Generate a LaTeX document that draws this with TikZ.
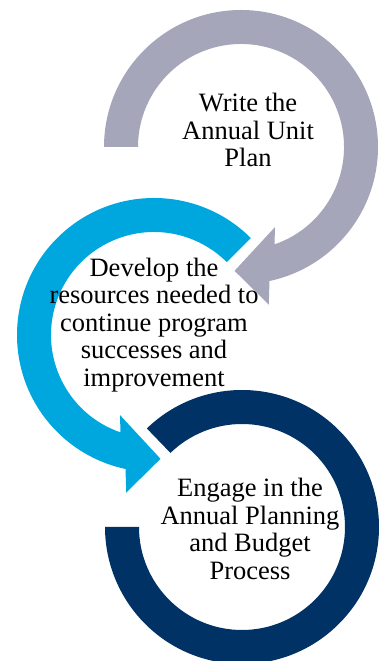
\documentclass[tikz,border=0pt]{standalone}
\usepackage{fontspec}
\setmainfont{Liberation Serif}
\definecolor{plangray}{RGB}{166,166,186}
\definecolor{rescyan}{RGB}{0,167,222}
\definecolor{budgetnavy}{RGB}{0,50,101}

\begin{document}
\begin{tikzpicture} [x=1pt, y=1pt, steptext/.style={align=center, font=\fontsize{26.5}{27.5}\selectfont}]
		\useasboundingbox (0,0) rectangle (380,661);
		% three circular arrows, one per step
		\fill [plangray, shift={(241,514)}] (180:103) -- (180:137) arc [start angle=180, end angle=-78, radius=137pt] -- (-80:160) -- (-93:124) -- (-67:87) -- (-71:103) arc [start angle=-71, end angle=180, radius=103pt] -- cycle;
		\fill [rescyan, shift={(154,326)}] (45:103) -- (45:137) arc [start angle=45, end angle=258, radius=137pt] -- (260:160) -- (273:124) -- (247:87) -- (251:103) arc [start angle=251, end angle=45, radius=103pt] -- cycle;
		\fill [budgetnavy, shift={(242,134)}] (134:137) arc [start angle=134, end angle=-180, radius=137pt] -- (-180:103) arc [start angle=-180, end angle=134, radius=103pt] -- cycle;
		\node [steptext] (plan) at (248,531) {Write the\\Annual Unit\\Plan};
		\node [steptext] (resources) at (154,336) {Develop the\\resources needed to\\continue program\\successes and\\improvement};
		\node [steptext] (budget) at (250,132) {Engage in the\\Annual Planning\\and Budget\\Process};
\end{tikzpicture}
\end{document}
